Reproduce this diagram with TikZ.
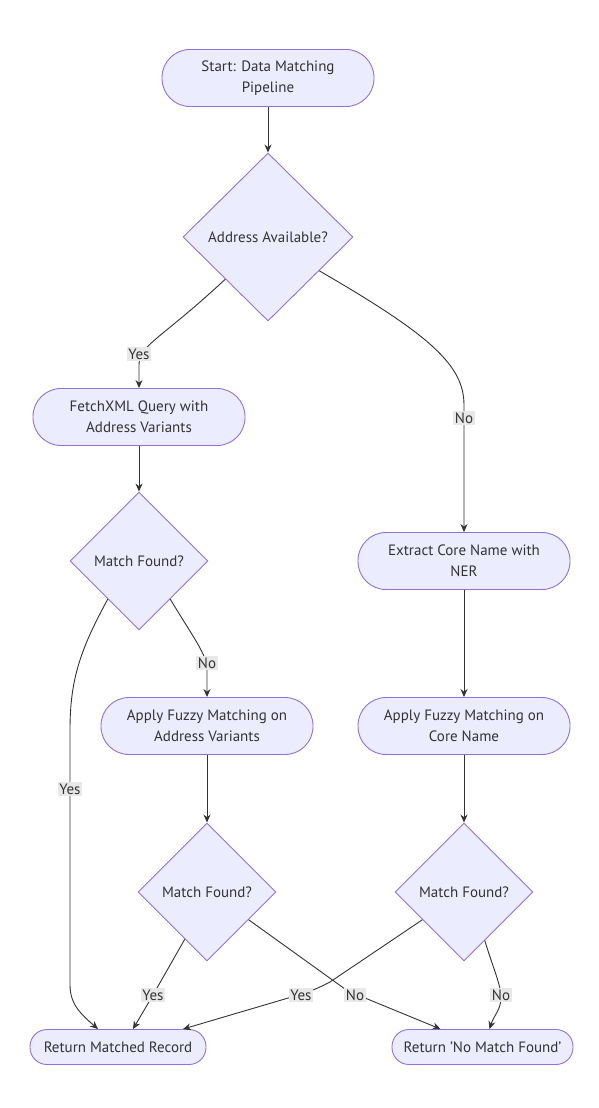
\documentclass[tikz,border=0pt]{standalone}
\usepackage{fontspec}
\setmainfont{PT Sans}
\usetikzlibrary{shapes.geometric,calc,arrows.meta}
\definecolor{nodefill}{HTML}{ECECFF}
\definecolor{nodeline}{HTML}{9370DB}
\definecolor{edgeline}{HTML}{333333}
\definecolor{lblfill}{HTML}{E8E8E8}
\begin{document}
\begin{tikzpicture}[x=1pt,y=-1pt,
  every node/.style={font=\fontsize{15}{21}\selectfont, text=edgeline},
  stadium/.style={draw=nodeline, fill=nodefill, line width=0.9pt, rounded corners=28pt,
    minimum width=212pt, minimum height=57pt, align=center, inner sep=0pt},
  smallstadium/.style={draw=nodeline, fill=nodefill, line width=0.9pt, rounded corners=17pt,
    minimum height=35pt, align=center, inner sep=0pt},
  decision/.style={draw=nodeline, fill=nodefill, line width=0.9pt, diamond, inner sep=0pt},
  edge/.style={draw=edgeline, line width=0.9pt, -{Stealth[length=8pt,width=7pt]}},
  lbl/.style={fill=lblfill, inner sep=1.5pt, font=\fontsize{15}{16}\selectfont}
]
\useasboundingbox (0,0) rectangle (598,1108);
\fill[white] (0,0) rectangle (598,1108);

% nodes
\node[stadium] (start) at (268,78) {Start: Data Matching\\Pipeline};
\node[decision, minimum width=170pt, minimum height=168pt] (d1) at (268,237) {};
\node at (d1.center) {Address Available?};
\node[stadium] (fetch) at (139,417) {FetchXML Query with\\Address Variants};
\node[decision, minimum width=138pt, minimum height=138pt] (d2) at (139,561) {};
\node at (d2.center) {Match Found?};
\node[stadium] (extract) at (464,561) {Extract Core Name with\\NER};
\node[stadium] (fuzzaddr) at (207,726) {Apply Fuzzy Matching on\\Address Variants};
\node[stadium] (fuzzcore) at (464,726) {Apply Fuzzy Matching on\\Core Name};
\node[decision, minimum width=138pt, minimum height=138pt] (d3) at (207,892) {};
\node at (d3.center) {Match Found?};
\node[decision, minimum width=138pt, minimum height=138pt] (d4) at (464,892) {};
\node at (d4.center) {Match Found?};
\node[smallstadium, minimum width=176pt] (rm) at (118,1047) {Return Matched Record};
\node[smallstadium, minimum width=181pt] (nm) at (482.5,1047) {Return 'No Match Found'};

% edges
\draw[edge] (start.south) -- (d1.north);

\draw[edge] (d1.south west) .. controls (160,340) and (139,345) .. (139,365) -- (fetch.north);
\node[lbl] (lyes1) at (139,354) {Yes};

\draw[edge] ($(d1.east)!0.4!(d1.south)$) .. controls (430,335) and (464,365) .. (464,405) -- (extract.north);
\node[lbl] (lno1) at (464,418) {No};

\draw[edge] (fetch.south) -- (d2.north);

\draw[edge] ($(d2.west)!0.55!(d2.south)$) .. controls (80,650) and (70,680) .. (70,730) -- (70,985)
   .. controls (70,1005) and (82,1015) .. ($(rm.north)+(-20,0)$);
\node[lbl] (lyes2) at (70,789) {Yes};

\draw[edge] ($(d2.east)!0.55!(d2.south)$) .. controls (195,640) and (207,655) .. (207,670) -- (fuzzaddr.north);
\node[lbl] (lno2) at (207,663) {No};

\draw[edge] (extract.south) -- (fuzzcore.north);
\draw[edge] (fuzzaddr.south) -- (d3.north);
\draw[edge] (fuzzcore.south) -- (d4.north);

\draw[edge] ($(d3.west)!0.68!(d3.south)$) -- (153,995) -- ($(rm.north)+(15,0)$);
\node[lbl] (lyes3) at (153,995) {Yes};

\draw[edge] ($(d4.west)!0.4!(d4.south)$) -- (330,982) .. controls (315,990) and (305,993) .. (295,996)
   -- ($(rm.north)+(65,0)$);
\node[lbl] (lyes4) at (301,995) {Yes};

\draw[edge] ($(d3.east)!0.4!(d3.south)$) -- (345,989) .. controls (352,993) and (358,995) .. (365,998)
   -- ($(nm.north)+(-42,0)$);
\node[lbl] (lno3) at (355,995) {No};

\draw[edge] ($(d4.east)!0.7!(d4.south)$) .. controls (492,965) and (501,985) .. (501,997)
   .. controls (501,1010) and (494,1015) .. ($(nm.north)+(7,0)$);
\node[lbl] (lno4) at (501,995) {No};
\end{tikzpicture}
\end{document}
